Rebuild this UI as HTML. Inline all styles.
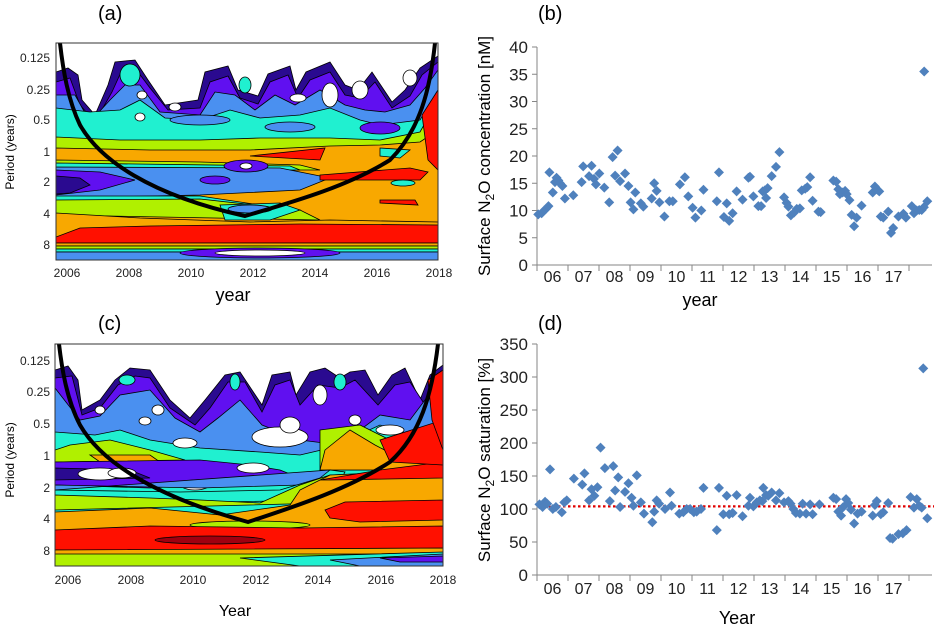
<!DOCTYPE html>
<html><head><meta charset="utf-8"><style>
body{margin:0;background:#fff;width:934px;height:626px;overflow:hidden;font-family:"Liberation Sans",sans-serif}
svg{position:absolute;left:0;top:0}
</style></head><body>
<svg id="s" width="934" height="626" viewBox="0 0 934 626" font-family="Liberation Sans, sans-serif">
<defs>
<clipPath id="ca"><rect x="56" y="43" width="382" height="217"/></clipPath>
<clipPath id="cc"><rect x="55" y="344" width="388" height="222"/></clipPath>
</defs>
<g>
<text x="98" y="20" font-size="20">(a)</text>
<g clip-path="url(#ca)" stroke="#000" stroke-width="0.8">
<rect x="56" y="43" width="382" height="217" fill="#fff" stroke="none"/>
<path fill="#2a0a90" d="M56,72 L68,68 L78,75 L82,100 L95,115 L108,85 L115,62 L135,60 L148,80 L165,105 L198,100 L205,72 L228,66 L238,90 L258,96 L268,74 L290,66 L296,90 L306,72 L330,62 L345,85 L358,90 L372,72 L392,102 L405,90 L420,68 L438,56 L438,260 L56,260Z"/>
<path fill="#6010f0" d="M56,82 L70,78 L80,105 L95,122 L112,92 L122,70 L135,68 L150,88 L168,110 L200,108 L210,82 L228,76 L240,98 L258,104 L270,82 L288,75 L298,98 L310,80 L330,72 L345,95 L360,98 L375,82 L392,108 L410,96 L422,75 L438,62 L438,260 L56,260Z"/>
<path fill="#4a90f0" d="M56,95 L75,95 L90,122 L110,100 L125,85 L140,85 L160,112 L200,115 L215,92 L235,95 L255,110 L275,95 L295,105 L320,90 L345,105 L365,110 L385,112 L410,105 L425,88 L438,70 L438,260 L56,260Z"/>
<path fill="#20f0d0" d="M56,108 L90,112 L120,110 L140,100 L165,118 L200,120 L230,110 L260,118 L300,115 L330,108 L360,120 L380,125 L420,120 L438,90 L438,260 L56,260Z"/>
<ellipse cx="200" cy="120" rx="30" ry="5" fill="#4a90f0"/>
<ellipse cx="290" cy="127" rx="25" ry="5" fill="#4a90f0"/>
<ellipse cx="380" cy="128" rx="20" ry="6" fill="#6010f0"/>
<path fill="#b0f000" d="M56,137 L120,140 L200,140 L260,138 L330,138 L380,140 L420,132 L438,100 L438,260 L56,260Z"/>
<path fill="#f8a800" d="M56,148 L150,150 L250,150 L330,146 L380,145 L420,142 L438,130 L438,260 L56,260Z"/>
<path fill="#ff1000" d="M250,156 L325,148 L320,160 Z"/>
<path fill="#ff1000" d="M422,115 L438,90 L438,170 L428,160Z"/>
<path fill="#20f0d0" d="M380,148 L410,150 L400,158 L380,156Z"/>
<path fill="#b0f000" d="M56,160 L200,162 L300,165 L320,170 L56,170Z"/>
<path fill="#20f0d0" d="M56,163 L290,166 L300,170 L56,170Z"/>
<path fill="#4a90f0" d="M56,167 L280,168 L330,178 L300,190 L200,195 L56,198Z"/>
<path fill="#6010f0" d="M56,170 L100,172 L135,180 L100,190 L56,195Z"/>
<path fill="#2a0a90" d="M56,176 L80,178 L90,185 L70,193 L56,194Z"/>
<ellipse cx="246" cy="166" rx="22" ry="6" fill="#6010f0"/>
<ellipse cx="246" cy="166" rx="6" ry="3" fill="#fff"/>
<ellipse cx="215" cy="180" rx="15" ry="4" fill="#6010f0"/>
<path fill="#ff1000" d="M320,175 L410,168 L428,172 L420,180 L320,180Z"/>
<ellipse cx="403" cy="183" rx="12" ry="3" fill="#20f0d0"/>
<path fill="#20f0d0" d="M56,196 L200,196 L260,205 L56,205Z"/>
<path fill="#b0f000" d="M56,200 L200,199 L300,210 L320,220 L56,215Z"/>
<path fill="#20f0d0" d="M220,205 L280,203 L300,210 L270,220 L225,220Z"/>
<ellipse cx="250" cy="209" rx="22" ry="4" fill="#4a90f0"/>
<path fill="#f8a800" d="M56,213 L140,218 L250,222 L330,220 L438,222 L438,260 L56,260Z"/>
<path fill="#ff1000" d="M380,200 L415,200 L418,205 L380,203Z"/>
<path fill="#ff1000" d="M56,237 L80,228 L150,226 L300,224 L438,225 L438,243 L56,243Z"/>
<rect x="56" y="243" width="382" height="3" fill="#f8a800"/>
<rect x="56" y="246" width="382" height="3" fill="#b0f000"/>
<rect x="56" y="249" width="382" height="3" fill="#20f0d0"/>
<rect x="56" y="252" width="382" height="8" fill="#4a90f0"/>
<ellipse cx="260" cy="253" rx="80" ry="5" fill="#6010f0"/>
<ellipse cx="260" cy="253" rx="45" ry="3" fill="#fff"/>
<ellipse cx="130" cy="75" rx="10" ry="11" fill="#20f0d0"/>
<ellipse cx="140" cy="117" rx="5" ry="4" fill="#fff"/>
<ellipse cx="298" cy="98" rx="8" ry="4" fill="#fff"/>
<ellipse cx="245" cy="85" rx="6" ry="8" fill="#20f0d0"/>
<ellipse cx="175" cy="107" rx="6" ry="4" fill="#fff"/>
<ellipse cx="142" cy="95" rx="5" ry="4" fill="#fff"/>
<ellipse cx="330" cy="95" rx="8" ry="12" fill="#fff"/>
<ellipse cx="360" cy="90" rx="8" ry="9" fill="#fff"/>
<ellipse cx="410" cy="78" rx="7" ry="8" fill="#fff"/>
</g>
<path d="M60,43 C63,70 68,100 80,125 C100,160 150,195 245,216 C300,200 350,185 390,160 C420,130 430,90 435,43" fill="none" stroke="#000" stroke-width="4" clip-path="url(#ca)"/>
<rect x="56" y="43" width="382" height="217" fill="none" stroke="#333" stroke-width="1"/>
<g font-size="12" fill="#222" text-anchor="end">
<text x="50" y="62">0.125</text><text x="50" y="94">0.25</text><text x="50" y="124">0.5</text><text x="50" y="156">1</text><text x="50" y="186">2</text><text x="50" y="218">4</text><text x="50" y="249">8</text>
</g>
<g font-size="12" fill="#222" text-anchor="middle">
<text x="67" y="277">2006</text><text x="129" y="277">2008</text><text x="191" y="277">2010</text><text x="253" y="277">2012</text><text x="315" y="277">2014</text><text x="377" y="277">2016</text><text x="439" y="277">2018</text>
</g>
<text x="233" y="301" font-size="18" text-anchor="middle">year</text>
<text transform="translate(14,152) rotate(-90)" font-size="12" text-anchor="middle">Period (years)</text>
</g>

<g>
<text x="98" y="330" font-size="20">(c)</text>
<g clip-path="url(#cc)" stroke="#000" stroke-width="0.8">
<rect x="55" y="344" width="388" height="222" fill="#fff" stroke="none"/>
<path fill="#2a0a90" d="M55,370 L68,366 L78,380 L82,410 L100,400 L115,380 L130,368 L150,370 L170,400 L190,418 L205,400 L225,375 L240,372 L262,405 L272,375 L290,372 L296,395 L310,372 L325,368 L340,378 L350,372 L365,370 L378,395 L392,375 L405,368 L420,400 L430,375 L443,365 L443,566 L55,566Z"/>
<path fill="#6010f0" d="M55,378 L72,376 L82,415 L100,408 L118,385 L135,376 L150,378 L170,408 L195,425 L210,408 L228,382 L245,382 L262,412 L275,385 L290,380 L300,405 L318,385 L340,388 L355,380 L378,405 L395,385 L410,382 L425,405 L443,370 L443,566 L55,566Z"/>
<path fill="#4a90f0" d="M55,388 L80,420 L100,416 L120,395 L150,390 L175,418 L200,432 L218,418 L240,400 L262,425 L300,440 L340,445 L380,415 L410,420 L440,380 L443,566 L55,566Z"/>
<path fill="#20f0d0" d="M55,432 L95,435 L120,430 L150,440 L200,448 L260,452 L300,455 L330,448 L380,425 L420,440 L443,440 L443,566 L55,566Z"/>
<path fill="#b0f000" d="M70,445 L110,440 L150,450 L185,460 L55,462 L55,450Z"/>
<path fill="#f8a800" d="M90,455 L150,455 L160,462 L100,462Z"/>
<path fill="#b0f000" d="M320,430 L360,425 L390,440 L410,450 L443,445 L443,470 L320,470Z"/>
<path fill="#f8a800" d="M325,450 L350,430 L375,445 L400,458 L443,455 L443,470 L320,470Z"/>
<path fill="#6010f0" d="M55,462 L200,460 L250,465 L280,470 L300,478 L150,488 L55,485Z"/>
<path fill="#2a0a90" d="M55,468 L130,470 L150,478 L55,480Z"/>
<ellipse cx="100" cy="474" rx="22" ry="6" fill="#fff"/>
<ellipse cx="122" cy="473" rx="14" ry="5" fill="#fff"/>
<ellipse cx="253" cy="468" rx="16" ry="5" fill="#fff"/>
<ellipse cx="195" cy="485" rx="14" ry="5" fill="#fff"/>
<ellipse cx="185" cy="443" rx="12" ry="5" fill="#fff"/>
<ellipse cx="280" cy="437" rx="28" ry="10" fill="#fff"/>
<ellipse cx="290" cy="425" rx="10" ry="8" fill="#fff"/>
<ellipse cx="145" cy="421" rx="6" ry="4" fill="#fff"/>
<ellipse cx="390" cy="430" rx="14" ry="5" fill="#fff"/>
<ellipse cx="235" cy="382" rx="5" ry="8" fill="#20f0d0"/>
<ellipse cx="340" cy="382" rx="6" ry="8" fill="#20f0d0"/>
<ellipse cx="127" cy="380" rx="8" ry="5" fill="#20f0d0"/>
<ellipse cx="158" cy="410" rx="6" ry="5" fill="#fff"/>
<ellipse cx="100" cy="410" rx="5" ry="4" fill="#fff"/>
<ellipse cx="320" cy="395" rx="7" ry="10" fill="#fff"/>
<ellipse cx="355" cy="420" rx="6" ry="5" fill="#fff"/>
<path fill="#4a90f0" d="M55,485 L200,488 L300,485 L320,480 L330,470 L55,490Z"/>
<path fill="#20f0d0" d="M55,490 L180,492 L280,490 L320,478 L330,470 L345,472 L330,500 L55,505Z"/>
<path fill="#b0f000" d="M55,495 L150,498 L200,500 L260,503 L300,485 L330,475 L443,472 L443,500 L55,510Z"/>
<path fill="#f8a800" d="M300,490 L330,475 L443,470 L443,545 L55,545 L55,512 L150,508 L220,515 L290,505Z"/>
<path fill="#ff1000" d="M320,480 L380,470 L443,462 L443,478 L330,480Z"/>
<path fill="#ff1000" d="M380,440 L443,420 L443,465 L390,462Z"/>
<path fill="#ff1000" d="M325,510 L345,502 L443,500 L443,520 L360,522 L330,518Z"/>
<ellipse cx="250" cy="525" rx="60" ry="4" fill="#b0f000"/>
<path fill="#ff1000" d="M55,530 L150,526 L300,528 L443,526 L443,550 L55,550Z"/>
<ellipse cx="210" cy="540" rx="55" ry="4" fill="#a00010"/>
<rect x="55" y="550" width="388" height="16" fill="#b0f000"/>
<path fill="#f8a800" d="M55,550 L443,548 L443,554 L55,554Z"/>
<path fill="#20f0d0" d="M240,558 L443,552 L443,566 L300,566Z"/>
<path fill="#4a90f0" d="M330,560 L443,554 L443,566 L360,566Z"/>
<path fill="#6010f0" d="M380,558 L443,556 L443,562 L400,562Z"/>
<path fill="#ff1000" d="M428,380 L443,370 L443,450 L432,420Z"/>
</g>
<path d="M59,344 C62,370 67,400 80,425 C100,460 150,495 248,522 C300,505 350,488 390,462 C420,435 432,395 438,344" fill="none" stroke="#000" stroke-width="4" clip-path="url(#cc)"/>
<rect x="55" y="344" width="388" height="222" fill="none" stroke="#333" stroke-width="1"/>
<g font-size="12" fill="#222" text-anchor="end">
<text x="50" y="365">0.125</text><text x="50" y="396">0.25</text><text x="50" y="428">0.5</text><text x="50" y="460">1</text><text x="50" y="492">2</text><text x="50" y="523">4</text><text x="50" y="555">8</text>
</g>
<g font-size="12" fill="#222" text-anchor="middle">
<text x="68" y="584">2006</text><text x="131" y="584">2008</text><text x="193" y="584">2010</text><text x="256" y="584">2012</text><text x="318" y="584">2014</text><text x="381" y="584">2016</text><text x="443" y="584">2018</text>
</g>
<text x="235" y="616" font-size="16" text-anchor="middle">Year</text>
<text transform="translate(14,460) rotate(-90)" font-size="12" text-anchor="middle">Period (years)</text>
</g>

<g id="pb">
<text x="538" y="20" font-size="20">(b)</text>
<text transform="translate(490,156) rotate(-90)" font-size="17" text-anchor="middle">Surface N<tspan font-size="12" dy="4">2</tspan><tspan dy="-4">O concentration [nM]</tspan></text>
<text x="700" y="306" font-size="18" text-anchor="middle">year</text>
</g>
<g id="pd">
<text x="538" y="330" font-size="20">(d)</text>
<text transform="translate(490,460) rotate(-90)" font-size="17" text-anchor="middle">Surface N<tspan font-size="12" dy="4">2</tspan><tspan dy="-4">O saturation [%]</tspan></text>
<text x="737" y="624" font-size="18" text-anchor="middle">Year</text>
</g>
</svg>
<script>
const yearLabels=["06","07","08","09","10","11","12","13","14","15","16","17"];
const bTicks=[0,5,10,15,20,25,30,35,40];
const dTicks=[0,50,100,150,200,250,300,350];
const bT=[0.04,0.15,0.23,0.29,0.37,0.40,0.51,0.58,0.63,0.69,0.74,0.82,0.90,1.17,1.44,1.49,1.68,1.76,1.84,1.90,2.01,2.17,2.33,2.44,2.52,2.60,2.68,2.84,2.95,3.02,3.11,3.17,3.35,3.43,3.70,3.78,3.86,3.95,4.11,4.27,4.38,4.61,4.77,4.88,5.02,5.11,5.30,5.37,5.80,5.87,6.03,6.12,6.20,6.31,6.44,6.63,6.82,6.87,6.98,7.14,7.23,7.28,7.35,7.39,7.44,7.57,7.71,7.82,7.97,8.05,8.11,8.19,8.29,8.38,8.48,8.54,8.65,8.72,8.81,8.89,9.08,9.15,9.56,9.65,9.72,9.77,9.86,9.94,9.99,10.08,10.15,10.23,10.31,10.47,10.83,10.90,10.98,11.04,11.09,11.17,11.33,11.42,11.49,11.66,11.82,11.90,12.09,12.16,12.25,12.33,12.41,12.48,12.49,12.59];
const bV=[9.3,9.5,10,10.3,10.8,17,13.3,15.2,16,15.5,15,14.5,12.2,12.8,15.2,18.1,16.3,18.2,15.8,14.8,16.8,14.2,11.5,19.8,16.4,21,15.4,16.8,14.5,11.5,10.2,13.3,11.3,10.7,12.2,15,13.6,11.5,8.9,11.7,11.7,14.8,16.1,12.6,10.5,8.7,10,13.8,11.7,17,8.8,11.3,8.1,9.5,13.5,12,16,16.2,12.6,10.8,10.8,13.5,13.7,12.3,14.1,16.3,18,20.7,12.4,11.4,10.7,9.1,9.6,10.3,10.4,13.7,14,14.3,16.1,11.8,9.8,9.7,15.5,15.3,13.9,13,13.3,13.6,13,11.9,9.2,7.1,8.7,10.9,13.3,14.4,13.8,13.5,8.9,8.7,9.8,5.9,6.8,8.9,9.4,8.7,10.8,9.5,10,10.1,10.1,10.6,35.5,11.7];
const dT=[0.08,0.18,0.26,0.33,0.42,0.51,0.61,0.80,0.88,0.96,1.19,1.46,1.53,1.68,1.76,1.85,1.95,2.05,2.19,2.35,2.46,2.52,2.62,2.68,2.84,2.95,3.05,3.11,3.22,3.35,3.45,3.72,3.78,3.86,3.94,4.13,4.29,4.34,4.59,4.72,4.83,4.94,5.06,5.15,5.29,5.37,5.80,5.87,6.01,6.12,6.20,6.31,6.44,6.63,6.82,6.87,6.98,7.09,7.19,7.27,7.30,7.39,7.46,7.57,7.71,7.82,7.97,8.11,8.18,8.27,8.35,8.48,8.57,8.68,8.81,8.89,9.11,9.56,9.65,9.72,9.81,9.88,9.97,10.04,10.13,10.23,10.34,10.47,10.83,10.90,10.96,11.09,11.17,11.33,11.39,11.47,11.66,11.80,11.92,12.05,12.16,12.25,12.33,12.41,12.46,12.59];
const dV=[107,103,111,108,160,100,103,95,110,113,146,137,154,113,130,120,133,193,162,112,165,128,148,103,126,139,117,105,151,110,93,80,96,113,108,100,125,105,93,95,100,100,95,96,100,132,68,132,92,120,92,94,121,89,105,117,104,110,113,112,132,121,120,125,113,124,110,112,108,100,94,93,108,93,107,92,107,117,115,96,90,103,115,109,99,78,93,96,90,106,112,92,95,109,56,55,62,63,68,118,102,115,105,102,313,86];
const refLine=[104];
const NS='http://www.w3.org/2000/svg';
function mk(tag,attrs,parent){const e=document.createElementNS(NS,tag);for(const k in attrs)e.setAttribute(k,attrs[k]);parent.appendChild(e);return e;}
function scatter(g,T,V,ticks,ymax,y0,y1,labelY,prefix){
  const x0=537,xPer=31,xEnd=932;
  const X=t=>x0+t*xPer, Y=v=>y0-(v/ymax)*(y0-y1);
  mk('line',{x1:x0,y1:y0,x2:x0,y2:y1,stroke:'#868686'},g);
  mk('line',{x1:x0,y1:y0,x2:xEnd,y2:y0,stroke:'#868686'},g);
  ticks.forEach(v=>{
    mk('line',{x1:x0-5,y1:Y(v),x2:x0,y2:Y(v),stroke:'#868686'},g);
    const t=mk('text',{x:x0-9,y:Y(v)+6,'font-size':17,'text-anchor':'end',fill:'#222'},g);t.textContent=v;
    
    
  });
  for(let i=0;i<=12;i++){mk('line',{x1:X(i),y1:y0,x2:X(i),y2:y0+6,stroke:'#868686'},g);}
  yearLabels.forEach((l,i)=>{
    const t=mk('text',{x:X(i+0.5),y:labelY,'font-size':16,'text-anchor':'middle',fill:'#222'},g);t.textContent=l;
    
    
  });
  return {X,Y};
}
const gb=document.getElementById('pb'), gd=document.getElementById('pd');
const sb=scatter(gb,bT,bV,bTicks,40,265,47,282,'b');
const sd=scatter(gd,dT,dV,dTicks,350,575,344,594,'d');
const rl=mk('line',{x1:543,y1:sd.Y(refLine[0]),x2:934,y2:sd.Y(refLine[0]),stroke:'#e00000','stroke-width':2.2,'stroke-dasharray':'2.5,2.5'},gd);


function pts(g,s,T,V,name){
  T.forEach((t,i)=>{
    const x=s.X(t),y=s.Y(V[i]);
    const p=mk('polygon',{points:`${x},${y-5} ${x+5},${y} ${x},${y+5} ${x-5},${y}`,fill:'#4f81bd'},g);
    
    
  });
}
pts(gb,sb,bT,bV,'n2o-concentration-point');
pts(gd,sd,dT,dV,'n2o-saturation-point');
</script>
</body></html>
